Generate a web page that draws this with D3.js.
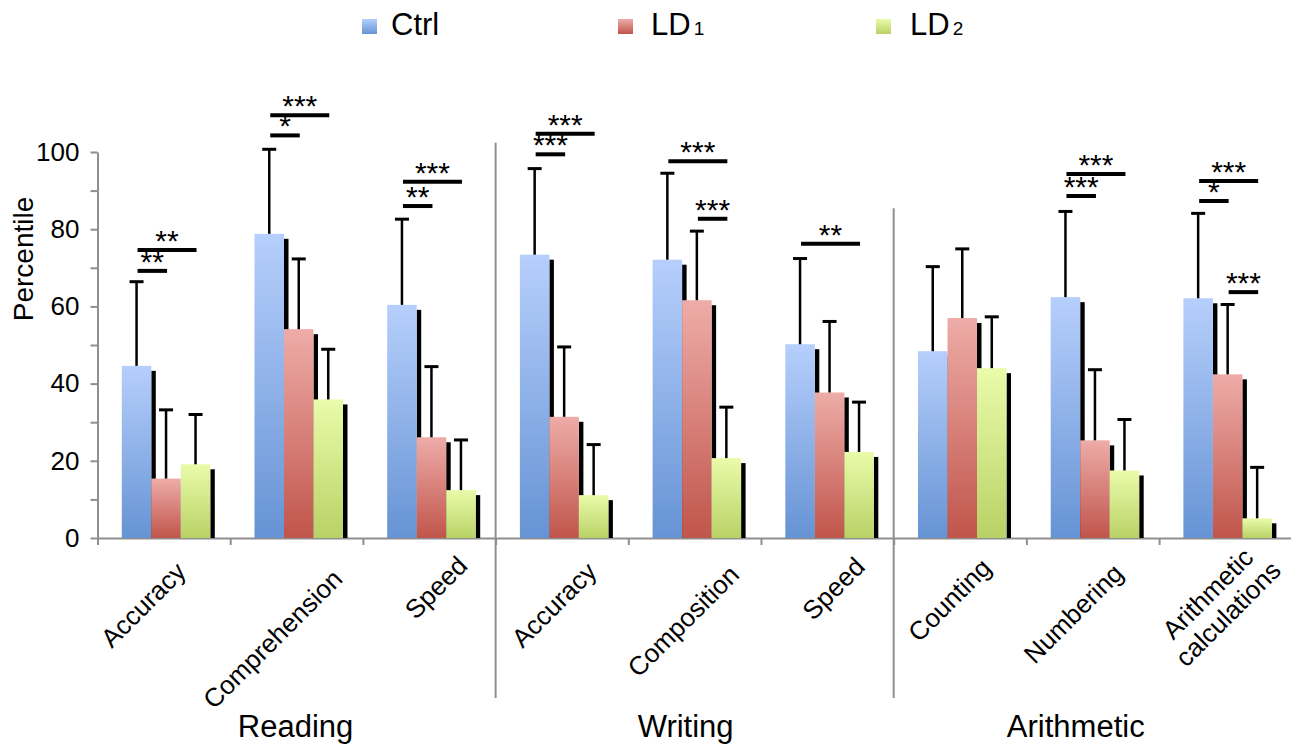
<!doctype html>
<html>
<head>
<style>
    body { margin: 0; background: #fff; }
    text { font-family: "Liberation Sans", Arial, Helvetica, sans-serif; fill: #000; }
</style>
<script src="https://d3js.org/d3.v7.min.js"></script>
</head>
<body>
<script>

    // Data
    var categories = ["Accuracy", "Comprehension", "Speed", "Accuracy", "Composition", "Speed", "Counting", "Numbering", "Arithmetic calculations"];
    var groups = ["Reading", "Writing", "Arithmetic"];
    var groupSize = [3, 3, 3];
    var series = ["Ctrl", "LD1", "LD2"];

    var ctrlMean = [44.6, 78.8, 60.4, 73.4, 72.1, 50.2, 48.4, 62.4, 62.1];
    var ctrlSD   = [21.8, 21.9, 22.2, 22.3, 22.4, 22.2, 21.9, 22.2, 22.0];
    var ld1Mean  = [15.4, 54.1, 26.1, 31.4, 61.6, 37.7, 57.0, 25.3, 42.4];
    var ld1SD    = [17.8, 18.2, 18.3, 18.1, 17.9, 18.4, 17.9, 18.3, 18.1];
    var ld2Mean  = [19.1, 35.9, 12.4, 11.1, 20.7, 22.3, 44.0, 17.5, 5.1];
    var ld2SD    = [12.9, 13.0, 13.0, 13.1, 13.2, 12.9, 13.3, 13.2, 13.2];

    var yTicks = [0, 10, 20, 30, 40, 50, 60, 70, 80, 90, 100];

    // significance brackets: category, from series, to series, level (percentile units), stars
    var sigCat   = [0, 0, 1, 1, 2, 2, 3, 3, 4, 4, 5, 7, 7, 8, 8, 8];
    var sigFrom  = [0, 0, 0, 0, 0, 0, 0, 0, 0, 1, 0, 0, 0, 0, 0, 1];
    var sigTo    = [1, 2, 1, 2, 1, 2, 1, 2, 2, 2, 2, 1, 2, 1, 2, 2];
    var sigLevel = [69.2, 74.6, 104.3, 109.5, 86.0, 92.3, 99.4, 104.7, 97.6, 82.7, 76.2, 88.6, 94.3, 87.3, 92.5, 63.7];
    var sigStars = ["**", "**", "*", "***", "**", "***", "***", "***", "***", "***", "**", "***", "***", "*", "***", "***"];

    // layout tweaks
    var labelDx = [-20.7, -24, 6.7, -8, -11.5, 6, -10.6, -19.5, -7.6];
    var labelDy = [66.7, 101, 49.5, 66.7, 83, 50.5, 62, 75.5, 65.6];
    var groupDx = [-1, -9, -17];
    var dividerTop = [102.4, 85.4];
    var legendX = [362, 618, 876];
    var legendTextX = [391, 651, 910];

    var means = [ctrlMean, ld1Mean, ld2Mean];
    var sds = [ctrlSD, ld1SD, ld2SD];
    var gradStops = [["#b6cffc", "#6693d4"], ["#eeaca8", "#c0554b"], ["#eafbaa", "#b9d266"]];

    var svg = d3.select("body").append("svg").attr("width", 1291).attr("height", 745);

    var defs = svg.append("defs");
    series.forEach(function (s, i) {
        var g = defs.append("linearGradient").attr("id", "grad" + i)
            .attr("x1", 0).attr("y1", 0).attr("x2", 0).attr("y2", 1);
        g.append("stop").attr("offset", "0%").attr("stop-color", gradStops[i][0]);
        g.append("stop").attr("offset", "100%").attr("stop-color", gradStops[i][1]);
    });
    defs.append("filter").attr("id", "soft").attr("x", "-50%").attr("y", "-50%").attr("width", "200%").attr("height", "200%")
        .append("feGaussianBlur").attr("stdDeviation", 0.7);
    defs.append("filter").attr("id", "haze").attr("x", "-50%").attr("y", "-200%").attr("width", "200%").attr("height", "500%")
        .append("feGaussianBlur").attr("stdDeviation", 2);

    // scales
    var x = d3.scaleBand().domain(d3.range(categories.length)).range([97.5, 1291.8]);
    var xs = d3.scaleBand().domain(d3.range(series.length)).range([24.3, 112.8]);
    var xb = d3.scaleLinear().domain([0, categories.length]).range([97.5, 1291.8]);
    var y = d3.scaleLinear().domain([0, 100]).range([538, 152]);

    function cx(c, s) { return x(c) + xs(s) + xs.bandwidth() / 2; }

    // axes
    var yAxis = svg.append("g").attr("transform", "translate(97.5,0)")
        .call(d3.axisLeft(y).tickValues(yTicks).tickSize(7).tickSizeOuter(0).tickPadding(11)
            .tickFormat(function (d) { return d % 20 === 0 ? d : ""; }));
    yAxis.selectAll("path, line").attr("stroke", "#8f8f8f").attr("stroke-width", 2);
    yAxis.selectAll("text").style("font-size", "26px").style("font-family", "Liberation Sans, Arial, sans-serif").attr("fill", "#000");

    var xAxis = svg.append("g").attr("transform", "translate(0,538)")
        .call(d3.axisBottom(xb).tickValues(d3.range(categories.length + 1)).tickSize(7).tickSizeOuter(0).tickFormat(""));
    xAxis.selectAll("path, line").attr("stroke", "#8f8f8f").attr("stroke-width", 2);

    // group dividers
    [3, 6].forEach(function (b, i) {
        svg.append("line")
            .attr("x1", xb(b)).attr("x2", xb(b))
            .attr("y1", y(dividerTop[i])).attr("y2", 698)
            .attr("stroke", "#8f8f8f").attr("stroke-width", 2);
    });

    // bars with drop shadow
    var cat = svg.selectAll(".cat").data(d3.range(categories.length)).enter().append("g")
        .attr("class", "cat").attr("transform", function (c) { return "translate(" + x(c) + ",0)"; });

    series.forEach(function (s, i) {
        cat.append("rect")
            .attr("x", xs(i) + xs.bandwidth())
            .attr("y", function (c) { return y(means[i][c]) + 5; })
            .attr("width", 4.5)
            .attr("height", function (c) { return y(0) - y(means[i][c]) - 5; })
            .attr("fill", "#000").attr("filter", "url(#soft)");
        cat.append("rect")
            .attr("x", xs(i))
            .attr("y", function (c) { return y(means[i][c]); })
            .attr("width", xs.bandwidth())
            .attr("height", function (c) { return y(0) - y(means[i][c]); })
            .attr("fill", "url(#grad" + i + ")");
    });

    // error bars (upper only)
    series.forEach(function (s, i) {
        var m = xs(i) + xs.bandwidth() / 2;
        cat.append("line")
            .attr("x1", m).attr("x2", m)
            .attr("y1", function (c) { return y(means[i][c]); })
            .attr("y2", function (c) { return y(means[i][c] + sds[i][c]); })
            .attr("stroke", "#000").attr("stroke-width", 2.5);
        cat.append("line")
            .attr("x1", m - 7).attr("x2", m + 7)
            .attr("y1", function (c) { return y(means[i][c] + sds[i][c]); })
            .attr("y2", function (c) { return y(means[i][c] + sds[i][c]); })
            .attr("stroke", "#000").attr("stroke-width", 3);
    });

    // significance brackets
    var sig = svg.selectAll(".sig").data(d3.range(sigCat.length)).enter().append("g").attr("class", "sig");
    sig.append("line")
        .attr("x1", function (k) { return cx(sigCat[k], sigFrom[k]) + 1; })
        .attr("x2", function (k) { return cx(sigCat[k], sigTo[k]) + 1; })
        .attr("y1", function (k) { return y(sigLevel[k]) + 3; })
        .attr("y2", function (k) { return y(sigLevel[k]) + 3; })
        .attr("stroke", "#999").attr("stroke-width", 4).attr("opacity", 0.7).attr("filter", "url(#haze)");
    sig.append("line")
        .attr("x1", function (k) { return cx(sigCat[k], sigFrom[k]) + 1; })
        .attr("x2", function (k) { return cx(sigCat[k], sigTo[k]) + 1; })
        .attr("y1", function (k) { return y(sigLevel[k]); })
        .attr("y2", function (k) { return y(sigLevel[k]); })
        .attr("stroke", "#000").attr("stroke-width", 4);
    sig.append("text")
        .attr("x", function (k) { return (cx(sigCat[k], sigFrom[k]) + cx(sigCat[k], sigTo[k])) / 2 + 1; })
        .attr("y", function (k) { return y(sigLevel[k]) + 1; })
        .attr("text-anchor", "middle")
        .style("font-size", "30px")
        .text(function (k) { return sigStars[k]; });

    // category labels, rotated
    categories.forEach(function (name, c) {
        var t = svg.append("text")
            .attr("transform", "translate(" + (x(c) + x.bandwidth() / 2 + labelDx[c]) + "," + (y(0) + labelDy[c]) + ") rotate(-45)")
            .attr("text-anchor", "middle")
            .style("font-size", "26px");
        var words = name === "Arithmetic calculations" ? ["Arithmetic", "calculations"] : [name];
        words.forEach(function (w, j) {
            t.append("tspan").attr("x", 0)
                .attr("dy", words.length === 1 ? "0.35em" : (j === 0 ? "-0.2em" : "1.1em"))
                .text(w);
        });
    });

    // group labels
    var start = 0;
    groups.forEach(function (gname, g) {
        var mid = (xb(start) + xb(start + groupSize[g])) / 2;
        svg.append("text")
            .attr("x", mid + groupDx[g]).attr("y", 737)
            .attr("text-anchor", "middle")
            .style("font-size", "31px")
            .text(gname);
        start += groupSize[g];
    });

    // y title
    svg.append("text")
        .attr("transform", "translate(33,259) rotate(-90)")
        .attr("text-anchor", "middle")
        .style("font-size", "28px")
        .text("Percentile");

    // legend
    series.forEach(function (s, i) {
        svg.append("rect").attr("x", legendX[i]).attr("y", 19).attr("width", 15).attr("height", 15)
            .attr("fill", "url(#grad" + i + ")");
        var t = svg.append("text").attr("x", legendTextX[i]).attr("y", 35).style("font-size", "31px");
        if (s === "Ctrl") {
            t.text(s);
        } else {
            t.append("tspan").text("LD");
            t.append("tspan").attr("dx", 3).style("font-size", "19px").text(s.slice(2));
        }
    });

</script>
</body>
</html>
